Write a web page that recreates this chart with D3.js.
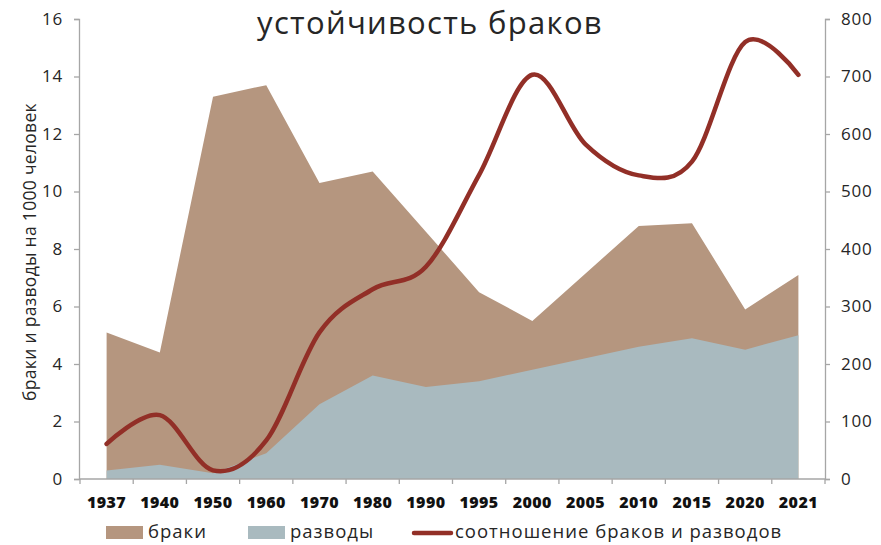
<!DOCTYPE html>
<html><head><meta charset="utf-8">
<script src="https://cdn.jsdelivr.net/npm/d3@7/dist/d3.min.js"></script>
<style>
body{margin:0;background:#fff;}
svg{display:block;font-family:"Open Sans","Noto Sans",sans-serif;}
</style></head><body>
<svg id="c" width="881" height="545"></svg>
<script>
const years = ["1937","1940","1950","1960","1970","1980","1990","1995","2000","2005","2010","2015","2020","2021"];
const marriages = [5.1,4.4,13.3,13.7,10.3,10.7,8.6,6.5,5.5,7.15,8.8,8.9,5.9,7.1];
const divorces = [0.3,0.5,0.2,0.9,2.6,3.6,3.2,3.4,3.8,4.2,4.6,4.9,4.5,5.0];
const ratio = [61,111,15,67,255,330,369,529,703,582,528,552,760,703];
const leftTicks = [0,2,4,6,8,10,12,14,16];
const rightTicks = [0,100,200,300,400,500,600,700,800];
const title = "устойчивость браков";
const yLabel = "браки и разводы на 1000 человек";
const legendLabels = ["браки","разводы","соотношение браков и разводов"];
const colors = {marr:"#b5967f", div:"#a9babf", line:"#922f27", axis:"#a6a6a6", text:"#262626"};

const svg = d3.select("#c");
const L = 80, R = 825, T = 19, B = 479;
const x = d3.scaleBand().domain(years).range([L,R]).padding(0);
const cx = d => x(d) + x.bandwidth()/2;
const yL = d3.scaleLinear().domain([0,16]).range([B,T]);
const yR = d3.scaleLinear().domain([0,800]).range([B,T]);

// areas
const areaM = d3.area().x((d,i)=>cx(years[i])).y0(B).y1(d=>yL(d));
svg.append("path").datum(marriages).attr("d",areaM).attr("fill",colors.marr);
svg.append("path").datum(divorces).attr("d",areaM).attr("fill",colors.div);

// line
const line = d3.line().x((d,i)=>cx(years[i])).y(d=>yR(d)).curve(d3.curveCardinal.tension(0));
svg.append("path").datum(ratio).attr("d",line).attr("fill","none")
  .attr("stroke",colors.line).attr("stroke-width",4.5).attr("stroke-linecap","round");

// left axis
const gl = svg.append("g").attr("transform",`translate(${L-1},0)`)
  .call(d3.axisLeft(yL).tickValues(leftTicks).tickSize(5).tickPadding(11));
// right axis
const gr = svg.append("g").attr("transform",`translate(${R},0)`)
  .call(d3.axisRight(yR).tickValues(rightTicks).tickSize(5).tickPadding(11));
[gl,gr].forEach(g=>{
  g.selectAll("path").attr("stroke",colors.axis).attr("stroke-width",1.3);
  g.selectAll("line").attr("stroke",colors.axis).attr("stroke-width",1.3);
  g.selectAll("text").attr("fill",colors.text).style("font-size","17px")
   .style("letter-spacing","0.8px")
   .style("font-family","'Open Sans',sans-serif");
});

// bottom axis: labels at band centers, ticks at band boundaries
const gb = svg.append("g").attr("transform",`translate(0,${B})`);
gb.append("line").attr("x1",L-1).attr("x2",R).attr("y1",0).attr("y2",0)
  .attr("stroke",colors.axis).attr("stroke-width",1.3);
const bounds = years.map(d=>x(d)).concat([R]);
gb.selectAll("line.t").data(bounds).enter().append("line").attr("class","t")
  .attr("x1",d=>d).attr("x2",d=>d).attr("y1",0).attr("y2",5)
  .attr("stroke",colors.axis).attr("stroke-width",1.3);
gb.selectAll("text").data(years).enter().append("text")
  .attr("x",d=>cx(d)).attr("y",29).attr("text-anchor","middle")
  .attr("fill","#111").style("font-size","16px").style("font-weight","800")
  .style("letter-spacing","0.4px")
  .style("font-family","'Open Sans',sans-serif").text(d=>d);

// title
svg.append("text").attr("x",430).attr("y",34).attr("text-anchor","middle")
  .attr("fill",colors.text).style("font-size","31px").style("letter-spacing","1.3px").text(title);

// y label
svg.append("text").attr("transform","translate(36,252) rotate(-90)")
  .attr("text-anchor","middle").attr("fill",colors.text).style("font-size","17.5px")
  .style("letter-spacing","0.3px").text(yLabel);

// legend
const lg = svg.append("g");
const fs = "18.5px", lsp = "1px", ly = 538;
lg.append("rect").attr("x",106).attr("y",526).attr("width",37).attr("height",13).attr("fill",colors.marr);
lg.append("text").attr("x",148).attr("y",ly).attr("fill",colors.text).style("font-size",fs).style("letter-spacing",lsp).text(legendLabels[0]);
lg.append("rect").attr("x",248).attr("y",526).attr("width",37).attr("height",13).attr("fill",colors.div);
lg.append("text").attr("x",290).attr("y",ly).attr("fill",colors.text).style("font-size",fs).style("letter-spacing",lsp).text(legendLabels[1]);
lg.append("line").attr("x1",414).attr("x2",451).attr("y1",533).attr("y2",533)
  .attr("stroke",colors.line).attr("stroke-width",4.5).attr("stroke-linecap","round");
lg.append("text").attr("x",455).attr("y",ly).attr("fill",colors.text).style("font-size",fs).style("letter-spacing",lsp).text(legendLabels[2]);
</script>
</body></html>
